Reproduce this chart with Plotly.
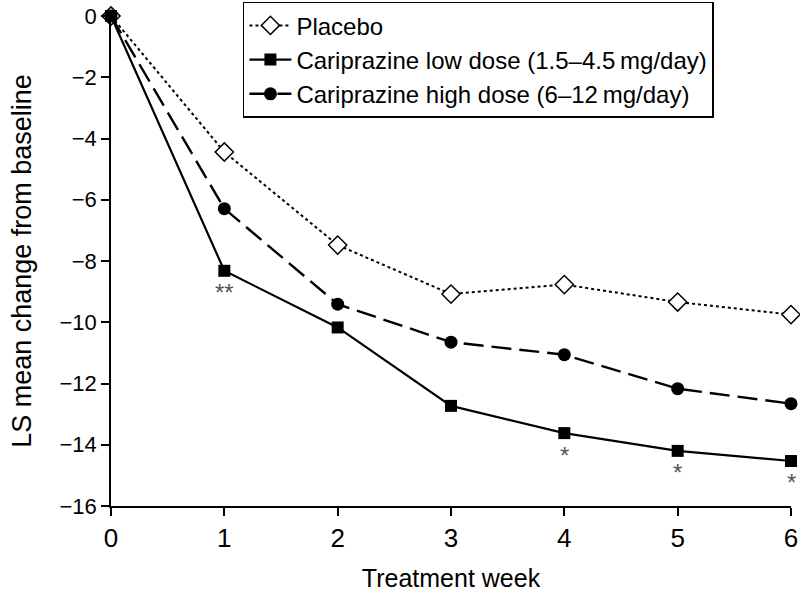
import plotly.graph_objects as go

weeks = [0, 1, 2, 3, 4, 5, 6]
placebo = [0, -4.44, -7.48, -9.08, -8.77, -9.34, -9.75]
low_dose = [0, -8.32, -10.17, -12.73, -13.62, -14.20, -14.53]
high_dose = [0, -6.29, -9.41, -10.65, -11.06, -12.17, -12.66]
low_sig = ["", "**", "", "", "*", "*", "*"]

x_ticks = [0, 1, 2, 3, 4, 5, 6]
y_ticks = [0, -2, -4, -6, -8, -10, -12, -14, -16]
y_tick_text = ["0" if v == 0 else "\u2212" + str(abs(v)) for v in y_ticks]

FONT = "Liberation Sans, Arial, Helvetica, sans-serif"

fig = go.Figure()
fig.add_trace(go.Scatter(
    x=weeks, y=placebo, name="Placebo", mode="lines+markers",
    line=dict(color="black", width=2, dash="dot"),
    marker=dict(symbol="diamond", size=14, color="white", line=dict(color="black", width=1.5)),
    cliponaxis=False,
))
fig.add_trace(go.Scatter(
    x=weeks, y=low_dose, name="Cariprazine low dose (1.5\u20134.5\u2009mg/day)", mode="lines+markers",
    line=dict(color="black", width=2.2),
    marker=dict(symbol="square", size=12, color="black"),
    cliponaxis=False,
))
fig.add_trace(go.Scatter(
    x=weeks, y=high_dose, name="Cariprazine high dose (6\u201312\u2009mg/day)", mode="lines+markers",
    line=dict(color="black", width=2.4, dash="20px,8px"),
    marker=dict(symbol="circle", size=13, color="black"),
    cliponaxis=False,
))

for xv, yv, s in zip(weeks, low_dose, low_sig):
    if s:
        fig.add_annotation(x=xv, y=yv, text=s, showarrow=False, yshift=-22,
                           font=dict(family=FONT, size=24, color="#555555"))

fig.update_layout(
    width=800, height=595,
    margin=dict(l=111, r=9, t=16, b=89, autoexpand=False),
    paper_bgcolor="white", plot_bgcolor="white",
    font=dict(family=FONT, size=22, color="black"),
    showlegend=True,
    legend=dict(
        x=0.194, y=1.029, xanchor="left", yanchor="top",
        bordercolor="black", borderwidth=1.5, bgcolor="white",
        font=dict(family=FONT, size=24, color="black"),
        tracegroupgap=0, itemwidth=42,
        entrywidth=445, entrywidthmode="pixels",
    ),
    xaxis=dict(
        range=[0, 6], tickvals=x_ticks, ticktext=[str(v) for v in x_ticks],
        showgrid=False, zeroline=False, showline=True, linecolor="black", linewidth=1.5,
        ticks="outside", ticklen=8, tickwidth=1.5, tickcolor="black",
        title=dict(text="Treatment week", font=dict(family=FONT, size=25), standoff=18),
        tickfont=dict(family=FONT, size=26),
    ),
    yaxis=dict(
        range=[-16, 0], tickvals=y_ticks, ticktext=y_tick_text,
        showgrid=False, zeroline=False, showline=True, linecolor="black", linewidth=1.5,
        ticks="outside", ticklen=8, tickwidth=1.5, tickcolor="black",
        title=dict(text="LS mean change from baseline", font=dict(family=FONT, size=27), standoff=20),
        tickfont=dict(family=FONT, size=22),
    ),
)

fig.write_html("out.html", config={"displayModeBar": False},
               post_script="document.body.style.margin='0';")
